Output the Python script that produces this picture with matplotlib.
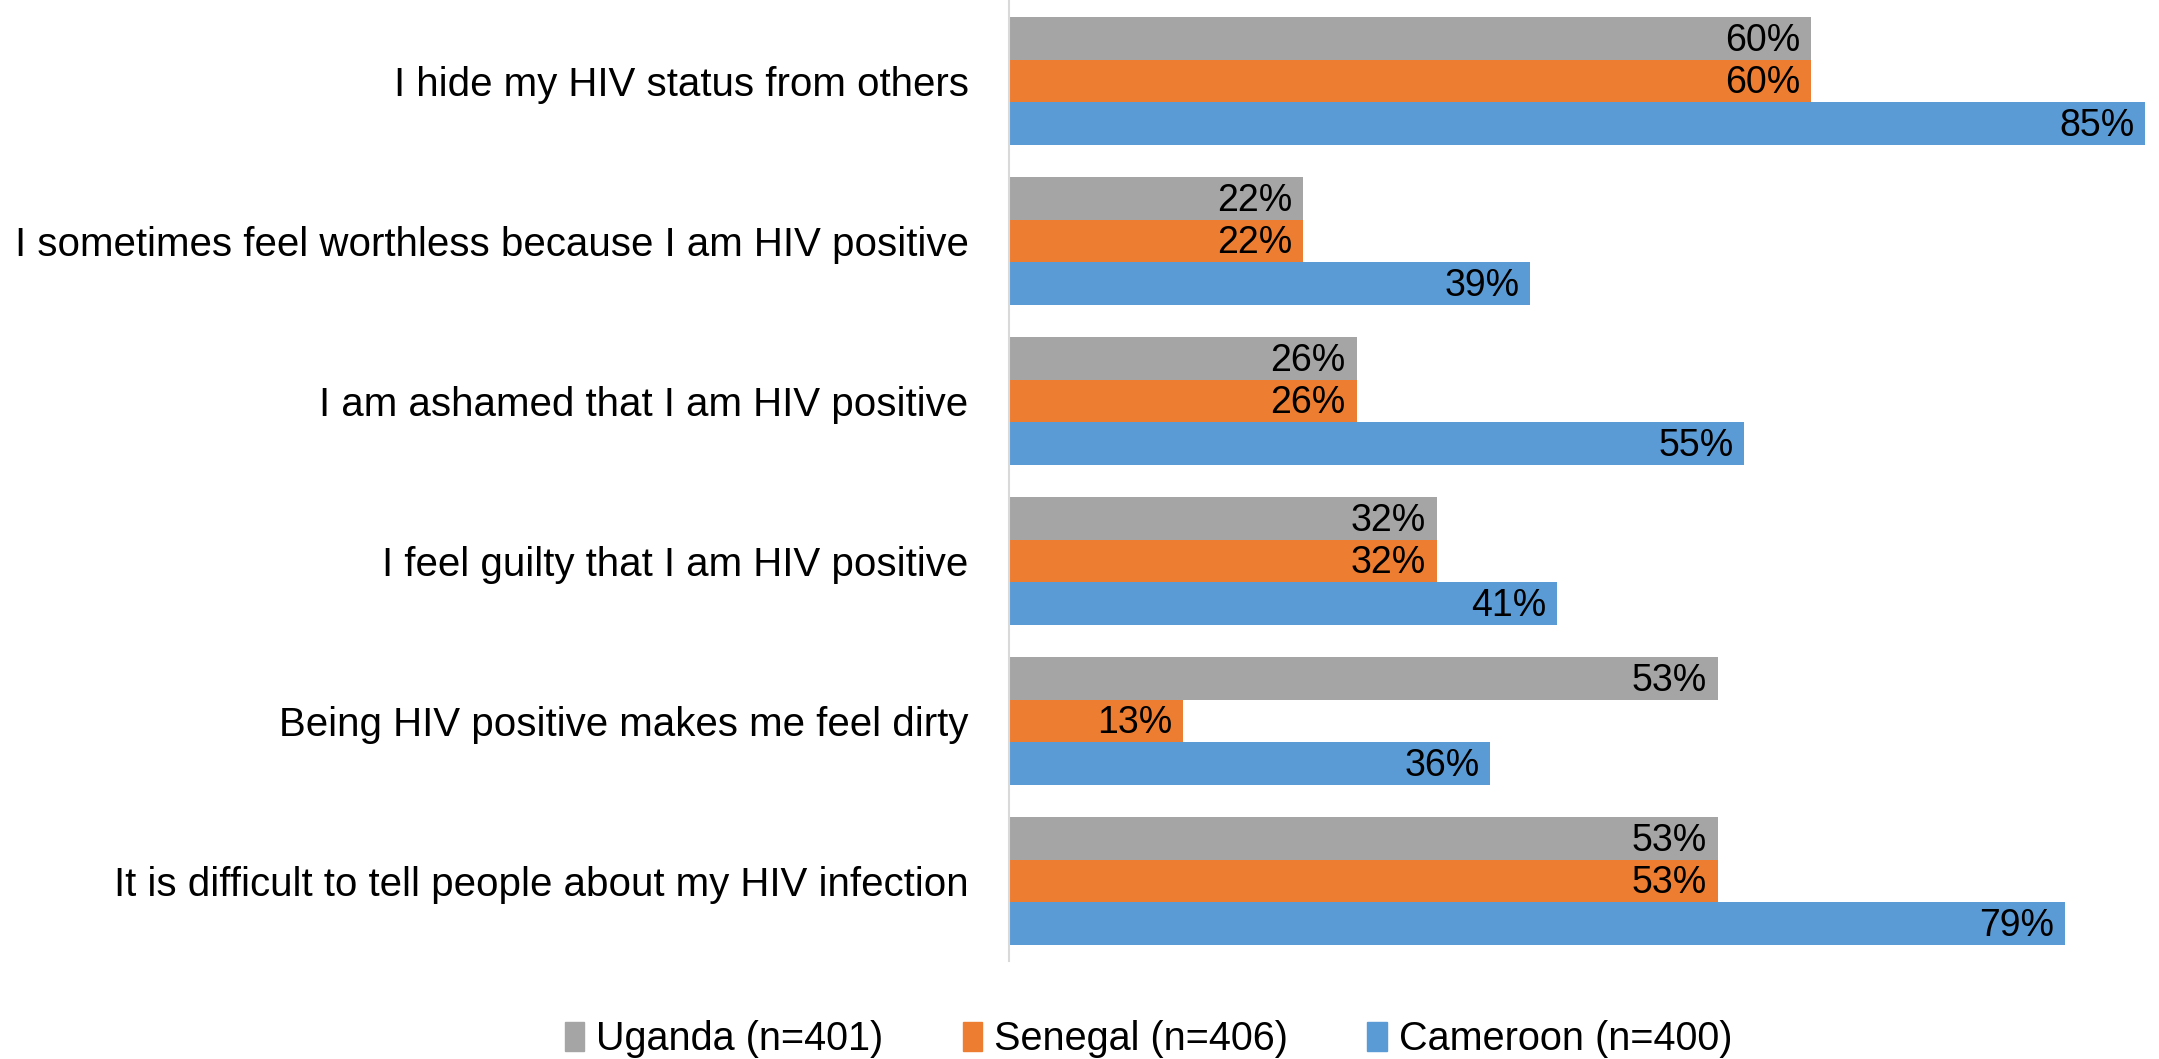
import matplotlib
matplotlib.use('Agg')
import matplotlib.pyplot as plt
import numpy as np
from matplotlib.patches import Patch

plt.rcParams['font.family'] = ['Liberation Sans', 'DejaVu Sans']

# survey statements, top to bottom
statements = [
    'I hide my HIV status from others',
    'I sometimes feel worthless because I am HIV positive',
    'I am ashamed that I am HIV positive',
    'I feel guilty that I am HIV positive',
    'Being HIV positive makes me feel dirty',
    'It is difficult to tell people about my HIV infection',
]
countries = ['Uganda (n=401)', 'Senegal (n=406)', 'Cameroon (n=400)']
uganda = [0.60, 0.22, 0.26, 0.32, 0.53, 0.53]
senegal = [0.60, 0.22, 0.26, 0.32, 0.13, 0.53]
cameroon = [0.85, 0.39, 0.55, 0.41, 0.36, 0.79]
colors = ['#A5A5A5', '#ED7D31', '#5B9BD5']

fig = plt.figure(figsize=(21.59, 10.59), dpi=100)
ax = fig.add_axes([0.4673, 0.0925, 0.5295, 0.9065])

n = len(statements)
y = np.arange(n)[::-1].astype(float)
h = 0.266
series = [uganda, senegal, cameroon]
offsets = [h, 0, -h]

for vals, off, col in zip(series, offsets, colors):
    bars = ax.barh(y + off, vals, height=h, color=col, linewidth=0)
    for b, v in zip(bars, vals):
        ax.text(b.get_width() - 0.008, b.get_y() + b.get_height() / 2 - 0.015,
                f'{v:.0%}', ha='right', va='center', fontsize=27, color='black')

ax.set_xlim(0, 0.855)
ax.set_ylim(-0.5, n - 0.5)
ax.set_yticks(y)
ax.set_yticklabels(statements, fontsize=29)
ax.tick_params(axis='y', length=0, pad=29)
ax.set_xticks([])
for s in ['top', 'right', 'bottom']:
    ax.spines[s].set_visible(False)
ax.spines['left'].set_color('#D9D9D9')
ax.spines['left'].set_linewidth(1.5)

handles = [Patch(color=c, label=l) for c, l in zip(colors, countries)]
fig.legend(handles=handles, loc='center', bbox_to_anchor=(0.532, 0.019), ncol=3,
           frameon=False, fontsize=28.5, handlelength=0.5, handleheight=0.75,
           handletextpad=0.3, columnspacing=2.0)

fig.savefig('out.png', dpi=100)
